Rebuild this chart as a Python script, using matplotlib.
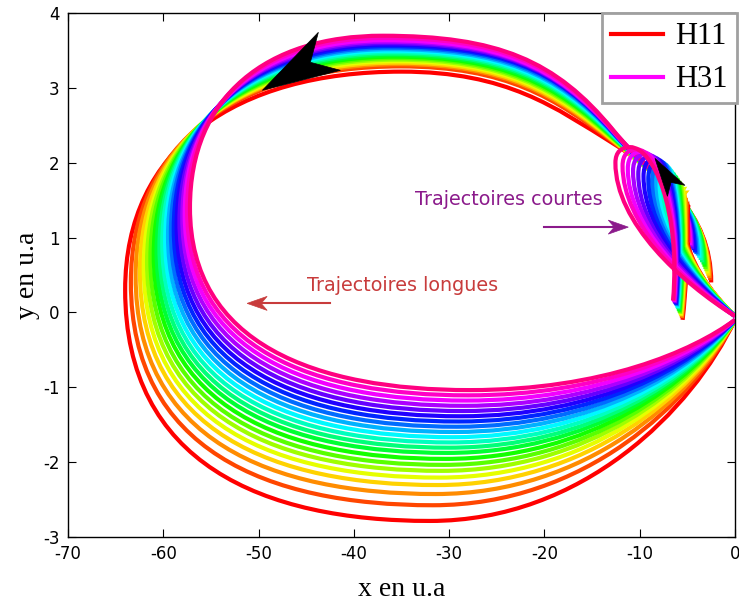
import colorsys
import matplotlib
matplotlib.use("Agg")
import matplotlib.pyplot as plt
from matplotlib.path import Path
from matplotlib.patches import PathPatch, Polygon
from matplotlib.lines import Line2D
from matplotlib.transforms import ScaledTranslation

plt.rcParams["axes.unicode_minus"] = False

# harmonic orders, one trajectory pair per order
orders = list(range(11, 32))

# long trajectories: start point, leftmost point, lowest point, highest point,
# height where they leave the short-trajectory zone and height at x = -17.4
long_x0 = [-2.5, -2.6, -2.7, -2.8, -2.9, -3.0, -3.1, -3.2, -3.3, -3.45, -3.6,
           -3.75, -3.9, -4.05, -4.2, -4.35, -4.5, -4.6, -4.7, -4.8, -4.9]
long_y0 = [0.40, 0.43, 0.46, 0.49, 0.52, 0.55, 0.58, 0.61, 0.64, 0.67, 0.70,
           0.73, 0.76, 0.78, 0.80, 0.83, 0.85, 0.88, 0.90, 0.93, 0.95]
long_xl = [-64.0, -63.4, -62.9, -62.45, -62.05, -61.7, -61.35, -61.0, -60.7, -60.4, -60.1,
           -59.8, -59.5, -59.2, -58.9, -58.6, -58.3, -58.0, -57.75, -57.5, -57.2]
long_yl = [0.30, 0.40, 0.48, 0.55, 0.61, 0.67, 0.72, 0.77, 0.82, 0.87, 0.92,
           0.97, 1.02, 1.07, 1.12, 1.17, 1.22, 1.27, 1.32, 1.36, 1.40]
long_xb = [-32.0, -31.7, -31.4, -31.2, -31.0, -30.8, -30.6, -30.4, -30.2, -30.0, -29.8,
           -29.6, -29.4, -29.2, -29.0, -28.8, -28.6, -28.4, -28.2, -28.0, -27.8]
long_yb = [-2.79, -2.58, -2.43, -2.31, -2.21, -2.12, -2.04, -1.96, -1.88, -1.81, -1.74,
           -1.67, -1.60, -1.53, -1.46, -1.39, -1.32, -1.25, -1.18, -1.11, -1.04]
long_xt = [-35.0, -35.1, -35.2, -35.3, -35.4, -35.5, -35.6, -35.7, -35.8, -35.9, -36.0,
           -36.1, -36.2, -36.3, -36.4, -36.5, -36.6, -36.7, -36.8, -36.9, -37.0]
long_yt = [3.22, 3.29, 3.32, 3.34, 3.36, 3.38, 3.40, 3.42, 3.44, 3.46, 3.48,
           3.50, 3.52, 3.54, 3.56, 3.58, 3.60, 3.62, 3.64, 3.67, 3.70]
long_yj = [2.26, 2.28, 2.29, 2.30, 2.31, 2.32, 2.33, 2.34, 2.35, 2.36, 2.37,
           2.38, 2.39, 2.40, 2.41, 2.41, 2.42, 2.42, 2.43, 2.43, 2.44]
long_y17 = [2.61, 2.68, 2.71, 2.73, 2.75, 2.77, 2.79, 2.81, 2.83, 2.85, 2.87,
            2.89, 2.91, 2.93, 2.95, 2.96, 2.97, 2.98, 2.99, 3.01, 3.03]

# short trajectories: start point, top of the loop, left edge of the loop
short_xe = [-5.5, -5.55, -5.6, -5.65, -5.7, -5.75, -5.8, -5.85, -5.9, -5.95, -6.0,
            -6.05, -6.1, -6.15, -6.2, -6.25, -6.3, -6.35, -6.4, -6.45, -6.5]
short_ye = [-0.10, -0.08, -0.07, -0.05, -0.04, -0.02, -0.01, 0.01, 0.02, 0.04, 0.05,
            0.06, 0.08, 0.09, 0.10, 0.11, 0.12, 0.13, 0.14, 0.15, 0.16]
short_xp = [-4.8, -4.95, -5.1, -5.25, -5.4, -5.6, -5.8, -6.0, -6.2, -6.45, -6.7,
            -6.95, -7.25, -7.55, -7.9, -8.3, -8.75, -9.25, -9.75, -10.3, -11.0]
short_yp = [1.45, 1.50, 1.55, 1.60, 1.65, 1.69, 1.73, 1.77, 1.81, 1.85, 1.89,
            1.93, 1.97, 2.00, 2.03, 2.06, 2.09, 2.12, 2.15, 2.18, 2.21]
short_xs = [-5.3, -5.5, -5.7, -5.9, -6.1, -6.35, -6.6, -6.85, -7.1, -7.4, -7.7,
            -8.0, -8.35, -8.7, -9.1, -9.6, -10.15, -10.7, -11.25, -11.8, -12.55]
short_ys = [1.20, 1.25, 1.30, 1.35, 1.40, 1.44, 1.48, 1.52, 1.56, 1.60, 1.64,
            1.68, 1.72, 1.75, 1.78, 1.82, 1.85, 1.89, 1.92, 1.96, 2.00]

# every trajectory ends on the ion
origin = (0.0, -0.1)


def long_path(i):
    ox, oy = origin
    sx, sy = long_x0[i], long_y0[i]
    jx, jy = -12.8, long_yj[i]
    tx, ty = long_xt[i], long_yt[i]
    lx, ly = long_xl[i], long_yl[i]
    bx, by = long_xb[i], long_yb[i]
    # handle height so that the arc J -> T passes through its point at x ~ -17.4
    hy = (long_y17[i] - 0.4219 * jy - 0.1562 * ty) / 0.4219
    verts = [(sx, sy),
             (sx, sy + 0.5 * (jy - sy)), (jx + 5.0, jy - 5.0 / 6.0 * (hy - jy)), (jx, jy),
             (jx - 6.0, hy), (tx + 0.5 * (jx - tx), ty), (tx, ty),
             (tx - 0.6 * (tx - lx), ty), (lx, ly + 0.65 * (ty - ly)), (lx, ly),
             (lx, ly - 0.75 * (ly - by)), (bx - 0.55 * (bx - lx), by), (bx, by),
             (0.5 * bx, by), (ox - 4.5, oy + 0.45 * (by - oy)), (ox, oy)]
    codes = [Path.MOVETO] + [Path.CURVE4] * 15
    return Path(verts, codes)


def short_path(i):
    ox, oy = 0.0, -0.05
    sx, sy = short_xs[i], short_ys[i]
    px, py = short_xp[i], short_yp[i]
    ex, ey = short_xe[i], short_ye[i]
    verts = [(ex, ey),
             (ex + 0.8, ey + 0.6 * (py - ey)), (px + 0.53 * (ex - px), py), (px, py),
             (px - 0.6 * (px - sx), py), (sx, sy + 0.7 * (py - sy)), (sx, sy),
             (sx, 0.6 * sy), (0.45 * sx, 0.2 * sy), (ox, oy)]
    codes = [Path.MOVETO] + [Path.CURVE4] * 9
    return Path(verts, codes)


def head(ax, tip, pts, color):
    # arrow head drawn in inches around its tip
    tr = ax.figure.dpi_scale_trans + ScaledTranslation(tip[0], tip[1], ax.transData)
    ax.add_patch(Polygon([(0, 0)] + pts, closed=True, transform=tr,
                         facecolor=color, edgecolor=color, lw=0.5, zorder=6))


fig = plt.figure(figsize=(7.39, 6.05), dpi=100)
ax = fig.add_axes([0.092, 0.113, 0.9026, 0.865])

n = len(orders)
colors = [colorsys.hsv_to_rgb(i / (n - 1) * 330 / 360, 1, 1) for i in range(n)]

for i in range(n):
    ax.add_patch(PathPatch(long_path(i), fill=False, edgecolor=colors[i], lw=3, zorder=2))
for i in range(n):
    ax.add_patch(PathPatch(short_path(i), fill=False, edgecolor=colors[i], lw=3, zorder=3))

ax.set_xlim(-70, 0)
ax.set_ylim(-3, 4)
ax.set_xticks(range(-70, 1, 10))
ax.set_yticks(range(-3, 5))
ax.tick_params(direction="in", top=True, right=True, length=6, labelsize=12, pad=6)
for s in ax.spines.values():
    s.set_linewidth(1.0)

ax.set_xlabel("x en u.a", family="Liberation Serif", fontsize=20, labelpad=10)
ax.set_ylabel("y en u.a", family="Liberation Serif", fontsize=20, labelpad=2)

# direction of motion
head(ax, (-49.6, 2.97), [(0.56, 0.58), (0.48, 0.28), (0.78, 0.20)], "black")
head(ax, (-8.4, 2.06), [(0.30, -0.27), (0.16, -0.24), (0.125, -0.38)], "black")

# labels for the two families
purple = "#8b1a8b"
ax.text(-33.6, 1.51, "Trajectoires courtes", color=purple, fontsize=13.8, va="center")
ax.plot([-20.0, -12.6], [1.14, 1.14], color=purple, lw=1.5)
head(ax, (-11.2, 1.14), [(-0.2, 0.07), (-0.14, 0.0), (-0.2, -0.07)], purple)

red = "#c83c3c"
ax.text(-44.9, 0.36, "Trajectoires longues", color=red, fontsize=13.8, va="center")
ax.plot([-42.5, -49.8], [0.12, 0.12], color=red, lw=1.5)
head(ax, (-51.2, 0.12), [(0.2, 0.07), (0.14, 0.0), (0.2, -0.07)], red)

handles = [Line2D([], [], color="#ff0000", lw=3), Line2D([], [], color="#ff00ff", lw=3)]
leg = ax.legend(handles, ["H11", "H31"], loc="upper right", bbox_to_anchor=(1.003, 1.0),
                borderaxespad=0.0, prop={"family": "Liberation Serif", "size": 22},
                fancybox=False, framealpha=1, edgecolor="#a0a0a0",
                handlelength=1.7, labelspacing=0.45, borderpad=0.3, handletextpad=0.4)
leg.get_frame().set_linewidth(2)
leg.set_zorder(10)

fig.savefig("out.png", dpi=100)
